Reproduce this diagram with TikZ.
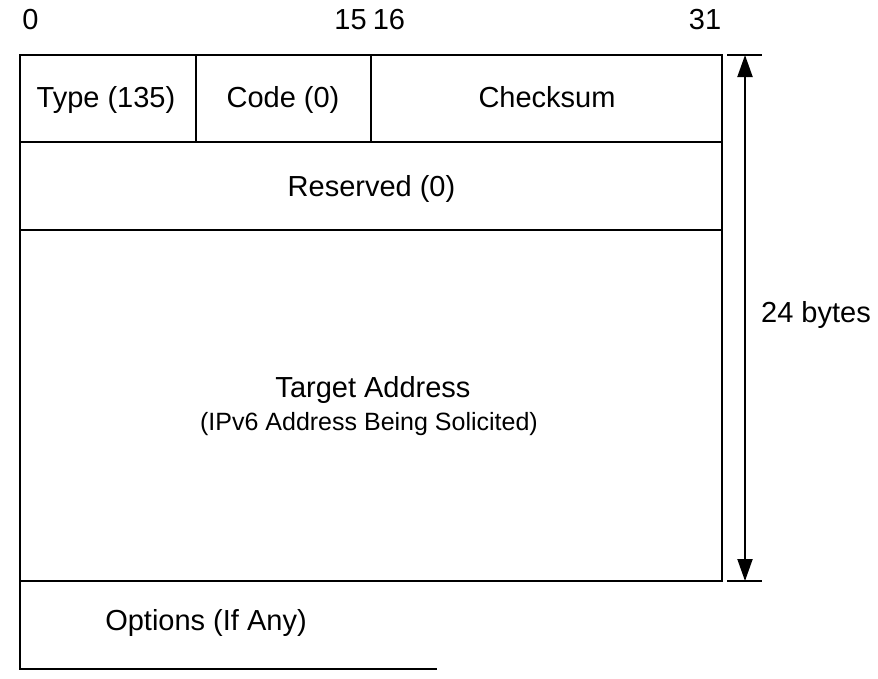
\documentclass[tikz,border=0pt]{standalone}
\usepackage{fontspec}
\setmainfont{Liberation Sans}
\usetikzlibrary{arrows.meta}
\begin{document}
\begin{tikzpicture}[x=1pt,y=-1pt,
  frame/.style={line width=2pt},
  lbl/.style={font=\fontsize{29}{34}\selectfont, inner sep=0pt, anchor=base},
  small/.style={font=\fontsize{25}{30}\selectfont, inner sep=0pt, anchor=base},
  dim/.style={line width=2pt, {Triangle[length=22pt,width=15pt]}-{Triangle[length=22pt,width=15pt]}}]
\useasboundingbox (0,0) rectangle (878,678);
% frame
\draw[frame] (20,55) rectangle (722,581);
\draw[frame] (20,142) -- (722,142);
\draw[frame] (20,230) -- (722,230);
\draw[frame] (196,55) -- (196,142);
\draw[frame] (371,55) -- (371,142);
\draw[frame] (20,581) -- (20,669) -- (437,669);
% bit labels
\node[lbl] (b0) at (30.5,29) {0};
\node[lbl] (b15) at (350.5,29) {15};
\node[lbl] (b16) at (389,29) {16};
\node[lbl] (b31) at (705,29) {31};
% fields
\node[lbl] (type) at (106,107) {Type (135)};
\node[lbl] (code) at (283,107) {Code (0)};
\node[lbl] (cks) at (547,107) {Checksum};
\node[lbl] (res) at (371.5,196) {Reserved (0)};
\node[lbl] (tgt) at (373,397) {Target Address};
\node[small] (tgts) at (369,430) {(IPv6 Address Being Solicited)};
\node[lbl] (opt) at (206,630) {Options (If Any)};
% dimension
\coordinate (dt) at (745,55);
\coordinate (db) at (745,581);
\draw[frame] (727,55) -- (762,55);
\draw[frame] (727,581) -- (762,581);
\draw[dim] (dt) -- (db);
\node[lbl] (bytes) at (816,322) {24 bytes};
\end{tikzpicture}
\end{document}
